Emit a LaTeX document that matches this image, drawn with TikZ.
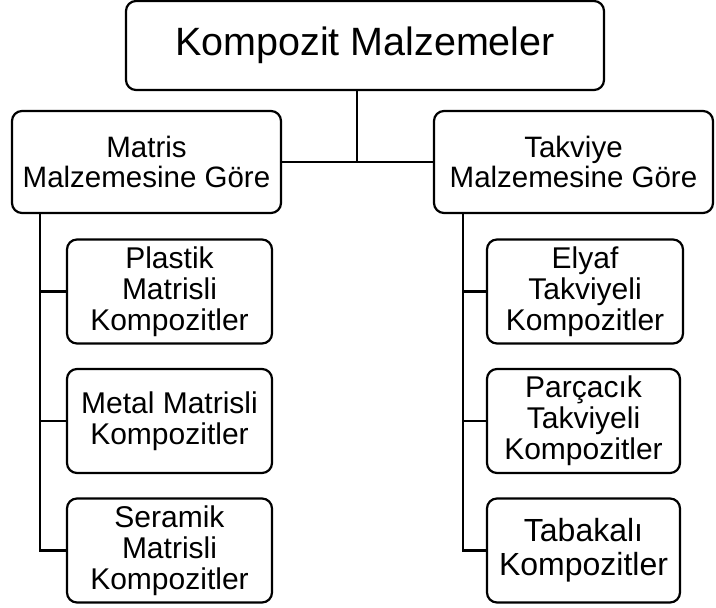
\documentclass[tikz,border=0pt]{standalone}
\usepackage{fontspec}
\setmainfont{Liberation Sans}
\usetikzlibrary{calc}

\begin{document}
\begin{tikzpicture}[
 x=1pt, y=-1pt,
 line width=2.2pt,
 align=center,
 inner sep=0pt,
 box/.style={draw=black,rectangle,rounded corners=10pt},
 head/.style={box,minimum width=478pt,minimum height=89pt,font=\fontsize{39.5}{47}\selectfont},
 group/.style={box,minimum height=102pt,font=\fontsize{29.5}{30}\selectfont},
 leaf/.style={box,minimum height=104pt,font=\fontsize{30}{31}\selectfont}
]
\useasboundingbox (0,0) rectangle (716,608);
\node (kompozit) [head] at (365,45.5) {Kompozit Malzemeler};
\node (matris) [group,minimum width=269pt] at (146.5,162) {Matris\\Malzemesine Göre};
\node (takviye) [group,minimum width=279pt] at (573.5,162) {Takviye\\Malzemesine Göre};
% matris branch
\node (plastik) [leaf,minimum width=205pt] at (169.5,291.5) {Plastik\\Matrisli\\Kompozitler};
\node (metal) [leaf,minimum width=205pt] at (169.5,421) {Metal Matrisli\\Kompozitler};
\node (seramik) [leaf,minimum width=205pt] at (169.5,550.5) {Seramik\\Matrisli\\Kompozitler};
% takviye branch
\node (elyaf) [leaf,minimum width=196pt] at (585,291.5) {Elyaf\\Takviyeli\\Kompozitler};
\node (parcacik) [leaf,minimum width=193pt] at (583.5,421) {Parçacık\\Takviyeli\\Kompozitler};
\node (tabakali) [leaf,minimum width=193pt,font=\fontsize{32}{34}\selectfont] at (583.5,550.5) {Tabakalı\\Kompozitler};
\coordinate (hub) at (357,161);
\coordinate (lbus) at (40,0);
\coordinate (rbus) at (463,0);
\draw (kompozit.south -| hub) -- (hub);
\draw (matris.east) -- (takviye.west);
\draw (matris.south -| lbus) -- (lbus |- seramik.west) -- (seramik.west);
\draw (lbus |- plastik.west) -- (plastik.west);
\draw (lbus |- metal.west) -- (metal.west);
\draw (takviye.south -| rbus) -- (rbus |- tabakali.west) -- (tabakali.west);
\draw (rbus |- elyaf.west) -- (elyaf.west);
\draw (rbus |- parcacik.west) -- (parcacik.west);
\end{tikzpicture}
\end{document}
